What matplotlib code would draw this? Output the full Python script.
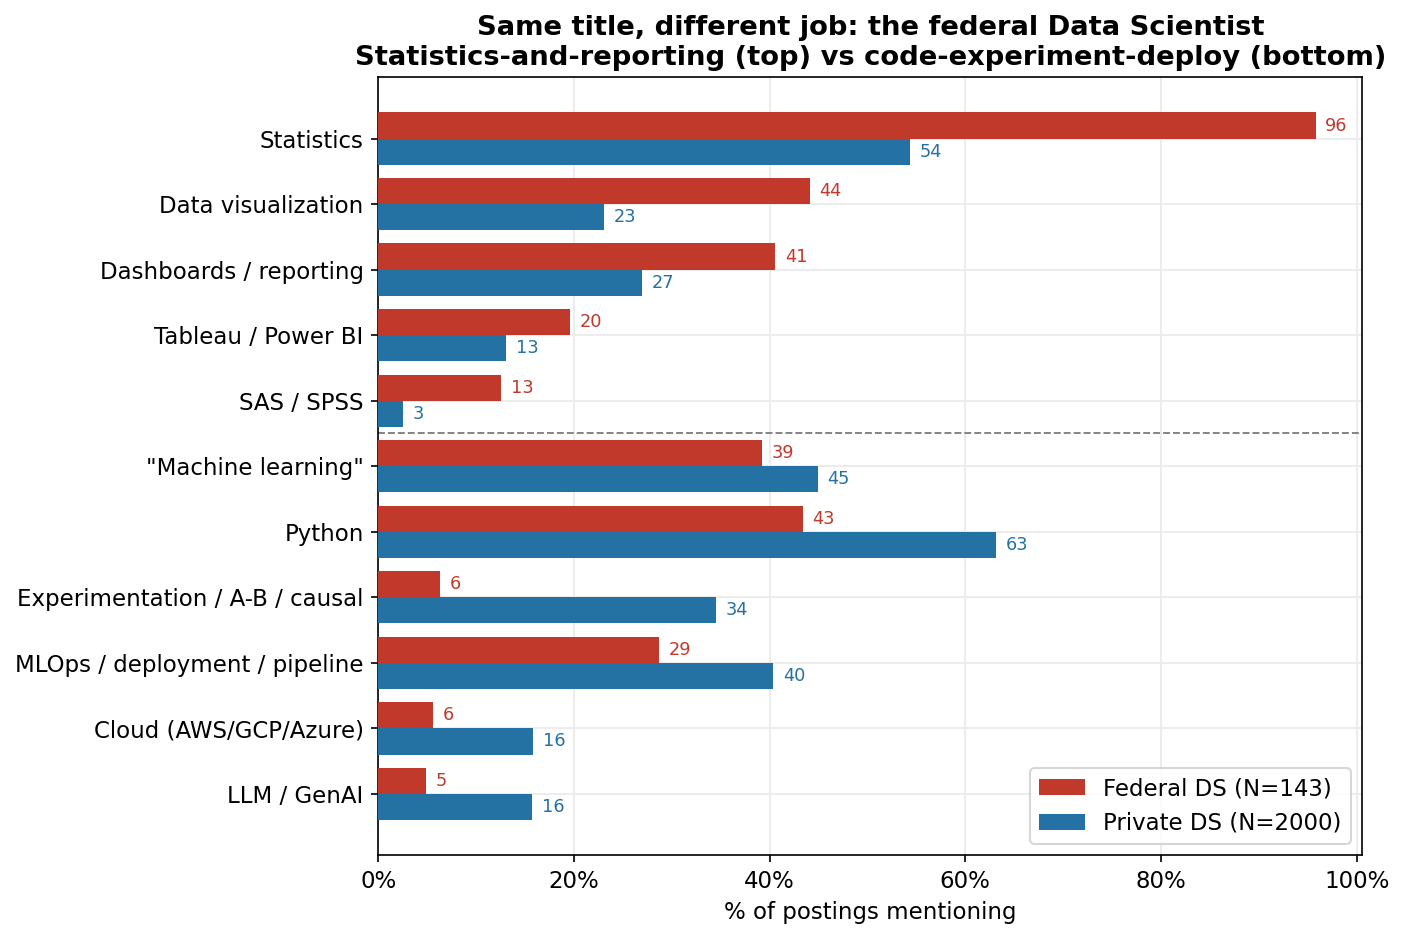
import matplotlib
matplotlib.use("Agg")
import matplotlib.pyplot as plt
import numpy as np
from matplotlib.ticker import FuncFormatter

categories = ["Statistics", "Data visualization", "Dashboards / reporting",
              "Tableau / Power BI", "SAS / SPSS", "\"Machine learning\"", "Python",
              "Experimentation / A-B / causal", "MLOps / deployment / pipeline",
              "Cloud (AWS/GCP/Azure)", "LLM / GenAI"]
federal = [95.8, 44.1, 40.6, 19.6, 12.6, 39.2, 43.4, 6.3, 28.7, 5.6, 4.9]
private = [54.3, 23.1, 27.0, 13.1, 2.55, 44.9, 63.1, 34.5, 40.4, 15.8, 15.7]

red = "#c0392b"
blue = "#2471a3"

fig, ax = plt.subplots(figsize=(1406/150, 940/150), dpi=150)
y = np.arange(len(categories))
h = 0.4
ax.barh(y - h/2, federal, height=h, color=red, label="Federal DS (N=143)", zorder=3)
ax.barh(y + h/2, private, height=h, color=blue, label="Private DS (N=2000)", zorder=3)

for yi, v in zip(y, federal):
    ax.text(v + 1, yi - h/2, f"{v:.0f}", va="center", ha="left", fontsize=8.5, color=red)
for yi, v in zip(y, private):
    ax.text(v + 1, yi + h/2, f"{v:.0f}", va="center", ha="left", fontsize=8.5, color=blue)

ax.axhline(4.5, color="gray", linestyle="--", linewidth=0.9, zorder=2)
ax.set_yticks(y)
ax.set_yticklabels(categories, fontsize=11)
ax.invert_yaxis()
ax.set_xlim(0, max(federal) * 1.05)
ax.xaxis.set_major_formatter(FuncFormatter(lambda v, p: f"{v:.0f}%"))
ax.tick_params(axis="x", labelsize=11)
ax.set_xlabel("% of postings mentioning", fontsize=11)
ax.grid(True, color="#ebebeb", linewidth=0.9, zorder=0)
ax.set_axisbelow(True)
ax.set_title("Same title, different job: the federal Data Scientist\n"
             "Statistics-and-reporting (top) vs code-experiment-deploy (bottom)",
             fontsize=13.15, fontweight="bold")
ax.legend(loc="lower right", fontsize=11)
fig.subplots_adjust(left=0.269, right=0.969, top=0.918, bottom=0.09)
fig.savefig("out.png", dpi=150)
